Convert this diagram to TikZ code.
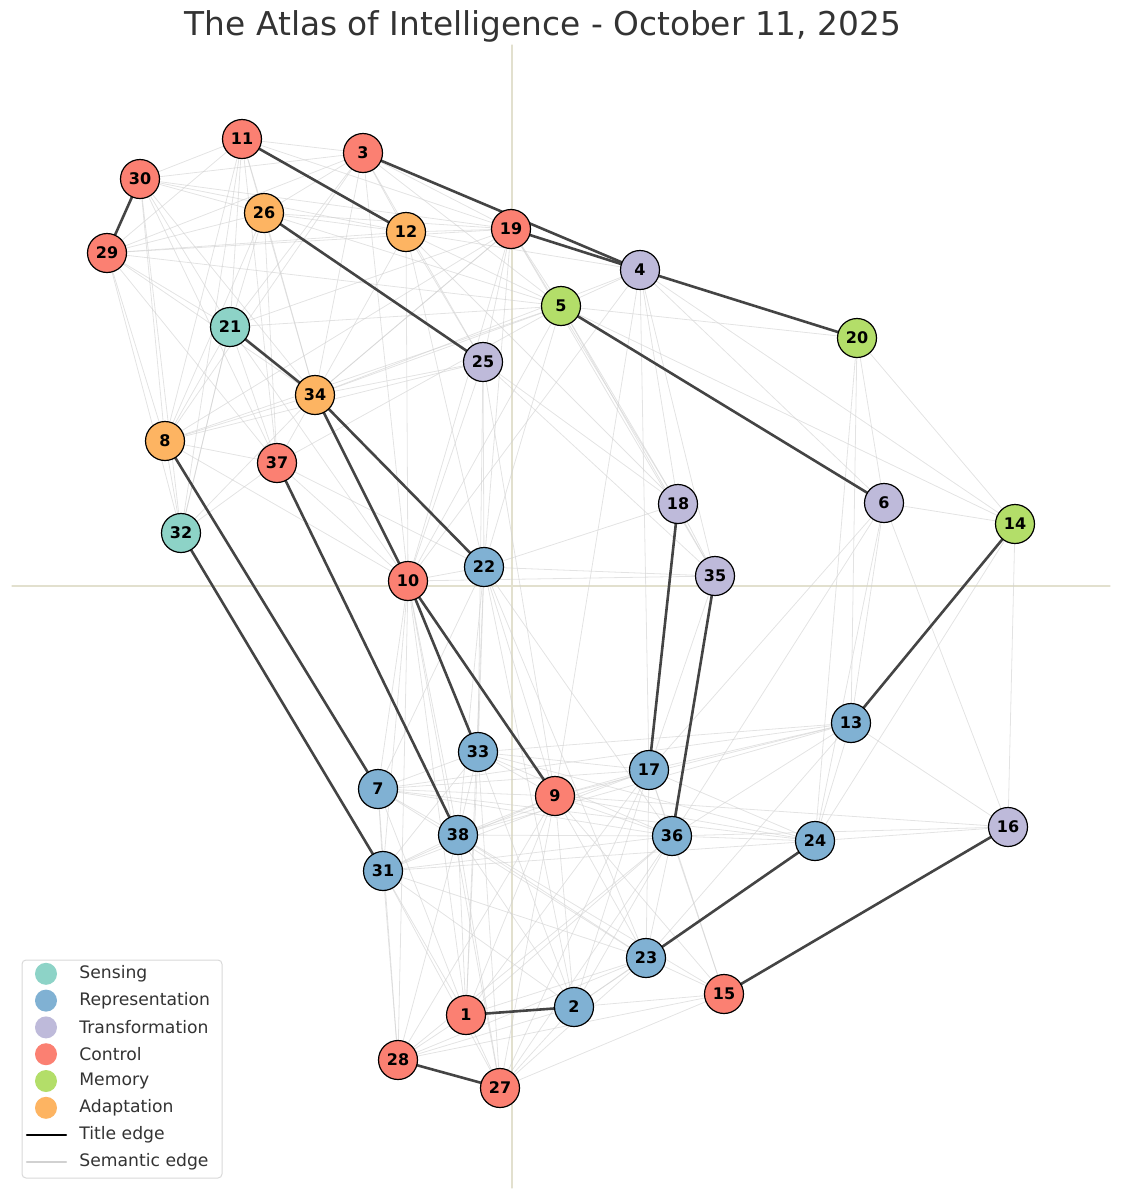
\documentclass[tikz,border=0pt]{standalone}
\usepackage{fontspec}
\setmainfont{DejaVu Sans}
\definecolor{sens}{HTML}{8DD3C7}
\definecolor{repr}{HTML}{80B1D3}
\definecolor{trans}{HTML}{BEBADA}
\definecolor{ctrl}{HTML}{FB8072}
\definecolor{mem}{HTML}{B3DE69}
\definecolor{adapt}{HTML}{FDB462}
\definecolor{axisline}{RGB}{226,224,206}
\definecolor{titlegray}{HTML}{444444}
\tikzset{
  dot/.style={circle, draw=black, line width=0.6pt, minimum size=19.5pt, inner sep=0pt, font=\fontsize{8}{9}\selectfont\bfseries},
  titleedge/.style={draw=titlegray, line width=1.3pt},
  semantic/.style={draw=black!18, line width=0.4pt, opacity=0.6},
  legtext/.style={anchor=west, inner sep=0pt, text=black!80, font=\fontsize{8.6}{10}\selectfont},
}
\begin{document}
\begin{tikzpicture}[x=0.5pt, y=-0.5pt, line join=round, line cap=round]
\useasboundingbox (0,0) rectangle (1122,1200);
% Danh sách các đỉnh: số / x / y / màu
\def\nodelist{1/466/1015/ctrl, 2/574/1007/repr, 3/363/153/ctrl, 4/640/270/trans,
  5/561/306/mem, 6/884/503/trans, 7/378/789/repr, 8/165/441/adapt,
  9/555/796/ctrl, 10/408/581/ctrl, 11/242/139/ctrl, 12/406/232/adapt,
  13/851/723/repr, 14/1015/524/mem, 15/724/994/ctrl, 16/1008/827/trans,
  17/649/770/repr, 18/678/504/trans, 19/511/229/ctrl, 20/857/338/mem,
  21/230/327/sens, 22/484/567/repr, 23/646/958/repr, 24/815/841/repr,
  25/483/362/trans, 26/264/213/adapt, 27/500/1088/ctrl, 28/398/1060/ctrl,
  29/107/253/ctrl, 30/140/179/ctrl, 31/383/871/repr, 32/181/533/sens,
  33/478/752/repr, 34/315/395/adapt, 35/715/576/trans, 36/672/836/repr,
  37/277/463/ctrl, 38/458/835/repr}
% Định nghĩa các điểm
\foreach \i/\x/\y/\c in \nodelist {\coordinate (p\i) at (\x,\y);}
% Trục toạ độ mờ
\coordinate (ax1) at (512,45);
\coordinate (ax2) at (512,1188);
\coordinate (ay1) at (12,586);
\coordinate (ay2) at (1110,586);
\draw[axisline, line width=0.6pt] (ax1) -- (ax2);
\draw[axisline, line width=0.6pt] (ay1) -- (ay2);
% Các cạnh ngữ nghĩa
\foreach \a/\b in {11/30, 11/3, 11/26, 11/21, 11/34, 11/8, 11/29, 11/37, 11/19, 11/32,
  30/26, 30/12, 30/21, 30/34, 30/8, 30/37, 30/19, 30/32, 30/3,
  29/26, 29/12, 29/19, 29/5, 29/8, 29/32, 29/21, 29/34, 29/37, 29/3,
  3/26, 3/12, 3/19, 3/21, 3/34, 3/8, 3/25, 3/5, 3/10,
  26/12, 26/19, 26/21, 26/34, 26/37, 26/8, 26/5,
  12/19, 12/5, 12/25, 12/10, 12/34, 12/22, 12/4, 12/18,
  19/5, 19/25, 19/34, 19/21, 19/8, 19/22, 19/35, 19/18, 19/10,
  21/8, 21/37, 21/32, 21/5, 21/10, 34/8, 34/37, 34/5, 34/25, 34/19, 34/32, 34/4,
  25/22, 25/10, 25/18, 25/35, 25/33, 25/9, 25/8,
  5/22, 5/10, 5/18, 5/35, 5/14, 5/8, 5/37,
  4/18, 4/35, 4/9, 4/17, 4/5, 4/14, 4/10, 4/6,
  20/6, 20/13, 20/24, 20/14, 20/5, 6/14, 6/13, 6/24, 6/16, 6/17, 6/36,
  14/16, 14/24, 13/17, 13/9, 13/36, 13/7, 13/24, 13/16, 13/33, 13/38, 13/23,
  16/24, 16/36, 16/9, 18/22, 18/35, 18/17, 35/22, 35/10, 35/17,
  22/10, 22/33, 22/38, 22/9, 22/2, 22/23, 22/7, 22/1, 22/36,
  10/7, 10/38, 10/31, 10/1, 10/27, 10/28,
  33/7, 33/38, 33/9, 33/17, 33/36, 33/24, 33/1, 33/27, 33/2, 33/31,
  7/38, 7/9, 7/17, 7/36, 7/31, 7/23, 7/1, 7/28, 7/24,
  9/38, 9/17, 9/36, 9/31, 9/23, 9/1, 9/2, 9/27, 9/28, 9/24, 9/15,
  17/38, 17/36, 17/24, 17/23, 17/2, 17/27, 17/1, 17/15, 17/31,
  38/36, 38/31, 38/23, 38/2, 38/1, 38/27, 38/28, 38/15,
  36/24, 36/23, 36/2, 36/15, 36/27, 36/28, 36/1, 36/31, 24/2, 24/31,
  31/23, 31/28, 31/1, 31/27, 31/2, 23/15, 23/2, 23/1, 23/28, 23/27,
  15/2, 15/28, 15/27, 2/28, 2/27, 1/28, 1/27,
  8/32, 8/37, 8/10, 37/32, 37/10, 37/22, 32/21}
  \draw[semantic] (p\a) -- (p\b);
% Các cạnh tiêu đề
\foreach \a/\b in {11/12, 3/4, 19/4, 30/29, 26/25, 21/34, 34/10, 34/22, 5/6, 4/20,
  8/7, 37/38, 32/31, 10/33, 10/9, 18/17, 35/36, 14/13, 24/23, 16/15, 1/2, 28/27}
  \draw[titleedge] (p\a) -- (p\b);
% Vẽ các đỉnh
\foreach \i/\x/\y/\c in \nodelist {\node[dot, fill=\c] (n\i) at (p\i) {\i};}
% Tiêu đề
\node[text=black!80, font=\fontsize{16.4}{18}\selectfont] (ttl) at (543,26) {The Atlas of Intelligence - October 11, 2025};
% Chú thích
\draw[rounded corners=2pt, draw=black!15, line width=0.5pt, fill=white, fill opacity=0.85] (22,960) rectangle (222,1178);
\foreach \name/\c [count=\k] in {Sensing/sens, Representation/repr, Transformation/trans,
  Control/ctrl, Memory/mem, Adaptation/adapt}
{
  \node[circle, fill=\c, minimum size=11pt, inner sep=0pt] (lg\k) at (46,947+26.8*\k) {};
  \node[legtext] (lt\k) at (79,947+26.8*\k) {\name};
}
\coordinate (la1) at (27,1135);
\coordinate (la2) at (66,1135);
\coordinate (lb1) at (27,1162);
\coordinate (lb2) at (66,1162);
\draw[black, line width=1.1pt] (la1) -- (la2);
\draw[black!18, line width=1.1pt] (lb1) -- (lb2);
\node[legtext] (lt7) at (79,1135) {Title edge};
\node[legtext] (lt8) at (79,1162) {Semantic edge};
\end{tikzpicture}
\end{document}
